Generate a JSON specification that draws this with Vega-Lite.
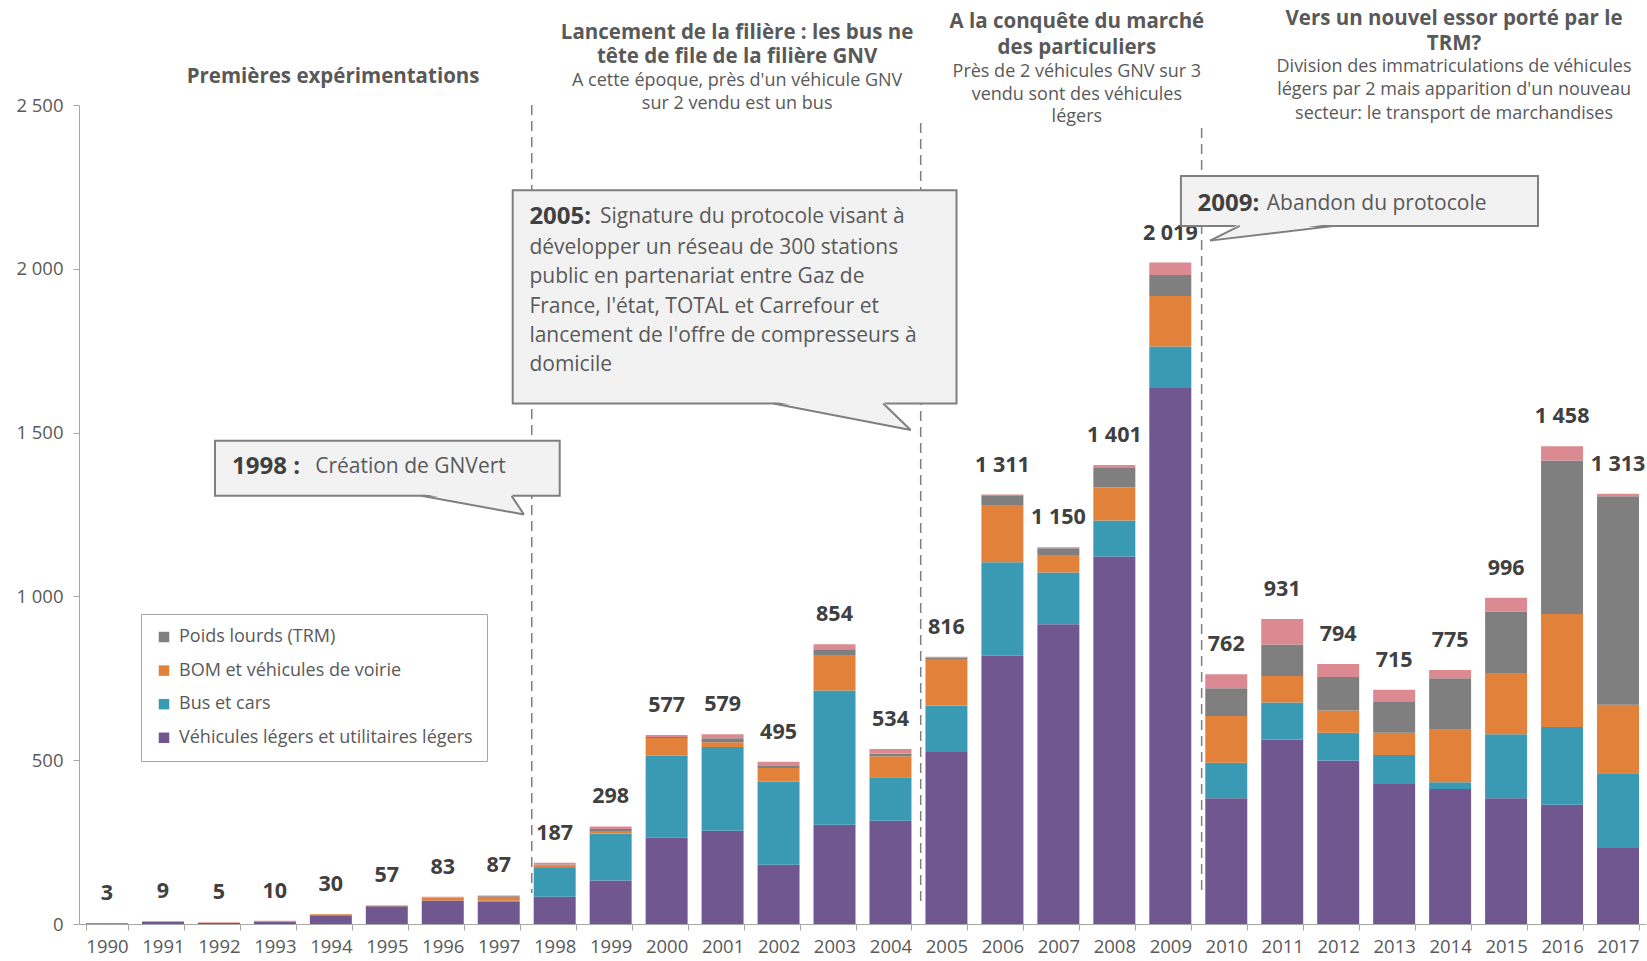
{
  "$schema": "https://vega.github.io/schema/vega-lite/v6.json",
  "width": 1567,
  "height": 819,
  "autosize": {"type": "none"},
  "padding": {"left": 79, "top": 105, "right": 1, "bottom": 37},
  "background": "white",
  "config": {
    "font": "Open Sans",
    "view": {"stroke": null},
    "locale": {"number": {"decimal": ",", "thousands": "\u00a0", "grouping": [3], "currency": ["", " €"]}}
  },
  "datasets": {
    "categories": [
      {"categorie": "Véhicules légers et utilitaires légers", "rang": 1},
      {"categorie": "Bus et cars", "rang": 2},
      {"categorie": "BOM et véhicules de voirie", "rang": 3},
      {"categorie": "Poids lourds (TRM)", "rang": 4},
      {"categorie": "Autres", "rang": 5}
    ],
    "immat": [
      {"annee": "1990", "categorie": "Véhicules légers et utilitaires légers", "n": 2},
      {"annee": "1990", "categorie": "BOM et véhicules de voirie", "n": 1},
      {"annee": "1991", "categorie": "Véhicules légers et utilitaires légers", "n": 6},
      {"annee": "1991", "categorie": "BOM et véhicules de voirie", "n": 2},
      {"annee": "1991", "categorie": "Autres", "n": 1},
      {"annee": "1992", "categorie": "Véhicules légers et utilitaires légers", "n": 3},
      {"annee": "1992", "categorie": "BOM et véhicules de voirie", "n": 1},
      {"annee": "1992", "categorie": "Autres", "n": 1},
      {"annee": "1993", "categorie": "Véhicules légers et utilitaires légers", "n": 7},
      {"annee": "1993", "categorie": "BOM et véhicules de voirie", "n": 2},
      {"annee": "1993", "categorie": "Autres", "n": 1},
      {"annee": "1994", "categorie": "Véhicules légers et utilitaires légers", "n": 27},
      {"annee": "1994", "categorie": "BOM et véhicules de voirie", "n": 3},
      {"annee": "1995", "categorie": "Véhicules légers et utilitaires légers", "n": 54},
      {"annee": "1995", "categorie": "BOM et véhicules de voirie", "n": 2},
      {"annee": "1995", "categorie": "Autres", "n": 1},
      {"annee": "1996", "categorie": "Véhicules légers et utilitaires légers", "n": 72},
      {"annee": "1996", "categorie": "BOM et véhicules de voirie", "n": 9},
      {"annee": "1996", "categorie": "Autres", "n": 2},
      {"annee": "1997", "categorie": "Véhicules légers et utilitaires légers", "n": 68},
      {"annee": "1997", "categorie": "Bus et cars", "n": 3},
      {"annee": "1997", "categorie": "BOM et véhicules de voirie", "n": 9},
      {"annee": "1997", "categorie": "Poids lourds (TRM)", "n": 5},
      {"annee": "1997", "categorie": "Autres", "n": 2},
      {"annee": "1998", "categorie": "Véhicules légers et utilitaires légers", "n": 83},
      {"annee": "1998", "categorie": "Bus et cars", "n": 88},
      {"annee": "1998", "categorie": "BOM et véhicules de voirie", "n": 8},
      {"annee": "1998", "categorie": "Poids lourds (TRM)", "n": 3},
      {"annee": "1998", "categorie": "Autres", "n": 5},
      {"annee": "1999", "categorie": "Véhicules légers et utilitaires légers", "n": 133},
      {"annee": "1999", "categorie": "Bus et cars", "n": 143},
      {"annee": "1999", "categorie": "BOM et véhicules de voirie", "n": 8},
      {"annee": "1999", "categorie": "Poids lourds (TRM)", "n": 6},
      {"annee": "1999", "categorie": "Autres", "n": 8},
      {"annee": "2000", "categorie": "Véhicules légers et utilitaires légers", "n": 263},
      {"annee": "2000", "categorie": "Bus et cars", "n": 251},
      {"annee": "2000", "categorie": "BOM et véhicules de voirie", "n": 54},
      {"annee": "2000", "categorie": "Poids lourds (TRM)", "n": 3},
      {"annee": "2000", "categorie": "Autres", "n": 6},
      {"annee": "2001", "categorie": "Véhicules légers et utilitaires légers", "n": 285},
      {"annee": "2001", "categorie": "Bus et cars", "n": 255},
      {"annee": "2001", "categorie": "BOM et véhicules de voirie", "n": 15},
      {"annee": "2001", "categorie": "Poids lourds (TRM)", "n": 12},
      {"annee": "2001", "categorie": "Autres", "n": 12},
      {"annee": "2002", "categorie": "Véhicules légers et utilitaires légers", "n": 181},
      {"annee": "2002", "categorie": "Bus et cars", "n": 254},
      {"annee": "2002", "categorie": "BOM et véhicules de voirie", "n": 41},
      {"annee": "2002", "categorie": "Poids lourds (TRM)", "n": 6},
      {"annee": "2002", "categorie": "Autres", "n": 13},
      {"annee": "2003", "categorie": "Véhicules légers et utilitaires légers", "n": 303},
      {"annee": "2003", "categorie": "Bus et cars", "n": 410},
      {"annee": "2003", "categorie": "BOM et véhicules de voirie", "n": 106},
      {"annee": "2003", "categorie": "Poids lourds (TRM)", "n": 20},
      {"annee": "2003", "categorie": "Autres", "n": 15},
      {"annee": "2004", "categorie": "Véhicules légers et utilitaires légers", "n": 315},
      {"annee": "2004", "categorie": "Bus et cars", "n": 133},
      {"annee": "2004", "categorie": "BOM et véhicules de voirie", "n": 64},
      {"annee": "2004", "categorie": "Poids lourds (TRM)", "n": 8},
      {"annee": "2004", "categorie": "Autres", "n": 14},
      {"annee": "2005", "categorie": "Véhicules légers et utilitaires légers", "n": 525},
      {"annee": "2005", "categorie": "Bus et cars", "n": 142},
      {"annee": "2005", "categorie": "BOM et véhicules de voirie", "n": 142},
      {"annee": "2005", "categorie": "Poids lourds (TRM)", "n": 4},
      {"annee": "2005", "categorie": "Autres", "n": 3},
      {"annee": "2006", "categorie": "Véhicules légers et utilitaires légers", "n": 819},
      {"annee": "2006", "categorie": "Bus et cars", "n": 285},
      {"annee": "2006", "categorie": "BOM et véhicules de voirie", "n": 175},
      {"annee": "2006", "categorie": "Poids lourds (TRM)", "n": 30},
      {"annee": "2006", "categorie": "Autres", "n": 2},
      {"annee": "2007", "categorie": "Véhicules légers et utilitaires légers", "n": 915},
      {"annee": "2007", "categorie": "Bus et cars", "n": 158},
      {"annee": "2007", "categorie": "BOM et véhicules de voirie", "n": 51},
      {"annee": "2007", "categorie": "Poids lourds (TRM)", "n": 23},
      {"annee": "2007", "categorie": "Autres", "n": 3},
      {"annee": "2008", "categorie": "Véhicules légers et utilitaires légers", "n": 1122},
      {"annee": "2008", "categorie": "Bus et cars", "n": 110},
      {"annee": "2008", "categorie": "BOM et véhicules de voirie", "n": 101},
      {"annee": "2008", "categorie": "Poids lourds (TRM)", "n": 59},
      {"annee": "2008", "categorie": "Autres", "n": 9},
      {"annee": "2009", "categorie": "Véhicules légers et utilitaires légers", "n": 1636},
      {"annee": "2009", "categorie": "Bus et cars", "n": 127},
      {"annee": "2009", "categorie": "BOM et véhicules de voirie", "n": 154},
      {"annee": "2009", "categorie": "Poids lourds (TRM)", "n": 64},
      {"annee": "2009", "categorie": "Autres", "n": 38},
      {"annee": "2010", "categorie": "Véhicules légers et utilitaires légers", "n": 384},
      {"annee": "2010", "categorie": "Bus et cars", "n": 108},
      {"annee": "2010", "categorie": "BOM et véhicules de voirie", "n": 143},
      {"annee": "2010", "categorie": "Poids lourds (TRM)", "n": 85},
      {"annee": "2010", "categorie": "Autres", "n": 42},
      {"annee": "2011", "categorie": "Véhicules légers et utilitaires légers", "n": 563},
      {"annee": "2011", "categorie": "Bus et cars", "n": 113},
      {"annee": "2011", "categorie": "BOM et véhicules de voirie", "n": 81},
      {"annee": "2011", "categorie": "Poids lourds (TRM)", "n": 96},
      {"annee": "2011", "categorie": "Autres", "n": 78},
      {"annee": "2012", "categorie": "Véhicules légers et utilitaires légers", "n": 499},
      {"annee": "2012", "categorie": "Bus et cars", "n": 85},
      {"annee": "2012", "categorie": "BOM et véhicules de voirie", "n": 68},
      {"annee": "2012", "categorie": "Poids lourds (TRM)", "n": 102},
      {"annee": "2012", "categorie": "Autres", "n": 40},
      {"annee": "2013", "categorie": "Véhicules légers et utilitaires légers", "n": 427},
      {"annee": "2013", "categorie": "Bus et cars", "n": 89},
      {"annee": "2013", "categorie": "BOM et véhicules de voirie", "n": 68},
      {"annee": "2013", "categorie": "Poids lourds (TRM)", "n": 96},
      {"annee": "2013", "categorie": "Autres", "n": 35},
      {"annee": "2014", "categorie": "Véhicules légers et utilitaires légers", "n": 412},
      {"annee": "2014", "categorie": "Bus et cars", "n": 21},
      {"annee": "2014", "categorie": "BOM et véhicules de voirie", "n": 160},
      {"annee": "2014", "categorie": "Poids lourds (TRM)", "n": 157},
      {"annee": "2014", "categorie": "Autres", "n": 25},
      {"annee": "2015", "categorie": "Véhicules légers et utilitaires légers", "n": 384},
      {"annee": "2015", "categorie": "Bus et cars", "n": 195},
      {"annee": "2015", "categorie": "BOM et véhicules de voirie", "n": 187},
      {"annee": "2015", "categorie": "Poids lourds (TRM)", "n": 188},
      {"annee": "2015", "categorie": "Autres", "n": 42},
      {"annee": "2016", "categorie": "Véhicules légers et utilitaires légers", "n": 364},
      {"annee": "2016", "categorie": "Bus et cars", "n": 237},
      {"annee": "2016", "categorie": "BOM et véhicules de voirie", "n": 345},
      {"annee": "2016", "categorie": "Poids lourds (TRM)", "n": 469},
      {"annee": "2016", "categorie": "Autres", "n": 43},
      {"annee": "2017", "categorie": "Véhicules légers et utilitaires légers", "n": 232},
      {"annee": "2017", "categorie": "Bus et cars", "n": 228},
      {"annee": "2017", "categorie": "BOM et véhicules de voirie", "n": 209},
      {"annee": "2017", "categorie": "Poids lourds (TRM)", "n": 637},
      {"annee": "2017", "categorie": "Autres", "n": 7}
    ],
    "separations": [
      {"ax": 1997.59, "haut": 2500, "bas": 95},
      {"ax": 2004.54, "haut": 2445, "bas": 70},
      {"ax": 2009.56, "haut": 2430, "bas": 90}
    ],
    "bulles": [
      {"x1": 1991.93, "x2": 1998.09, "y1": 1475, "y2": 1307},
      {"x1": 1997.25, "x2": 2005.18, "y1": 2240, "y2": 1589},
      {"x1": 2009.19, "x2": 2015.57, "y1": 2283, "y2": 2131}
    ],
    "pointes": [
      {"id": "a", "ax": 1995.62, "ay": 1314},
      {"id": "a", "ax": 1997.23, "ay": 1314},
      {"id": "a", "ax": 1997.45, "ay": 1250},
      {"id": "b", "ax": 2001.91, "ay": 1596},
      {"id": "b", "ax": 2003.87, "ay": 1596},
      {"id": "b", "ax": 2004.36, "ay": 1508},
      {"id": "c", "ax": 2010.24, "ay": 2138},
      {"id": "c", "ax": 2011.91, "ay": 2138},
      {"id": "c", "ax": 2009.71, "ay": 2086}
    ],
    "contours": [
      {"xa": 1995.62, "ya": 1307, "xb": 1997.45, "yb": 1250},
      {"xa": 1997.23, "ya": 1307, "xb": 1997.45, "yb": 1250},
      {"xa": 2001.91, "ya": 1589, "xb": 2004.36, "yb": 1508},
      {"xa": 2003.87, "ya": 1589, "xb": 2004.36, "yb": 1508},
      {"xa": 2010.24, "ya": 2131, "xb": 2009.71, "yb": 2086},
      {"xa": 2011.91, "ya": 2131, "xb": 2009.71, "yb": 2086}
    ],
    "titres_gras": [
      {"ax": 1994.04, "ay": 2586, "texte": "Premières expérimentations"},
      {"ax": 2001.26, "ay": 2721, "texte": "Lancement de la filière : les bus ne"},
      {"ax": 2001.26, "ay": 2645, "texte": "tête de file de la filière GNV"},
      {"ax": 2007.33, "ay": 2753, "texte": "A la conquête du marché"},
      {"ax": 2007.33, "ay": 2675, "texte": "des particuliers"},
      {"ax": 2014.07, "ay": 2762, "texte": "Vers un nouvel essor porté par le"},
      {"ax": 2014.07, "ay": 2685, "texte": "TRM?"}
    ],
    "titres_normaux": [
      {"ax": 2001.26, "ay": 2574, "texte": "A cette époque, près d'un véhicule GNV"},
      {"ax": 2001.26, "ay": 2503, "texte": "sur 2 vendu est un bus"},
      {"ax": 2007.33, "ay": 2602, "texte": "Près de 2 véhicules GNV sur 3"},
      {"ax": 2007.33, "ay": 2532, "texte": "vendu  sont des véhicules"},
      {"ax": 2007.33, "ay": 2462, "texte": "légers"},
      {"ax": 2014.07, "ay": 2615, "texte": "Division des immatriculations de véhicules"},
      {"ax": 2014.07, "ay": 2545, "texte": "légers par 2 mais apparition d'un nouveau"},
      {"ax": 2014.07, "ay": 2474, "texte": "secteur: le transport de marchandises"}
    ],
    "bulles_gras": [
      {"ax": 1992.235, "ay": 1394, "texte": "1998 :"},
      {"ax": 1997.548, "ay": 2157, "texte": "2005:"},
      {"ax": 2009.486, "ay": 2198, "texte": "2009:"}
    ],
    "bulles_texte": [
      {"ax": 1993.72, "ay": 1394, "texte": "Création de GNVert"},
      {"ax": 1998.81, "ay": 2157, "texte": "Signature du protocole visant à"},
      {"ax": 1997.548, "ay": 2064, "texte": "développer un réseau de 300 stations"},
      {"ax": 1997.548, "ay": 1974, "texte": "public en partenariat entre Gaz de"},
      {"ax": 1997.548, "ay": 1884, "texte": "France, l'état, TOTAL et Carrefour et"},
      {"ax": 1997.548, "ay": 1795, "texte": "lancement de l'offre de compresseurs à"},
      {"ax": 1997.548, "ay": 1705, "texte": "domicile"},
      {"ax": 2010.725, "ay": 2198, "texte": "Abandon du protocole"}
    ]
  },
  "layer": [
    {
      "data": {"name": "immat"},
      "transform": [
        {"lookup": "categorie", "from": {"data": {"name": "categories"}, "key": "categorie", "fields": ["rang"]}}
      ],
      "layer": [
        {
          "mark": {"type": "bar"},
          "encoding": {
            "x": {
              "field": "annee", "type": "ordinal",
              "scale": {"paddingInner": 0.25, "paddingOuter": 0.125},
              "axis": {
                "title": null, "labelAngle": 0, "tickBand": "extent",
                "labelFontSize": 18.5, "labelColor": "#595959", "labelPadding": 7,
                "domainColor": "#a6a6a6", "tickColor": "#a6a6a6", "tickSize": 6
              }
            },
            "y": {
              "aggregate": "sum", "field": "n", "type": "quantitative",
              "scale": {"domain": [0, 2500], "nice": false},
              "axis": {
                "title": null, "values": [0, 500, 1000, 1500, 2000, 2500], "format": ",d",
                "grid": false, "labelFontSize": 18.5, "labelColor": "#595959",
                "domainColor": "#a6a6a6", "tickColor": "#a6a6a6", "tickSize": 6, "labelPadding": 10
              }
            },
            "order": {"field": "rang", "type": "quantitative", "sort": "ascending"},
            "color": {
              "field": "categorie", "type": "nominal",
              "scale": {
                "domain": ["Autres", "Poids lourds (TRM)", "BOM et véhicules de voirie", "Bus et cars", "Véhicules légers et utilitaires légers"],
                "range": ["#da8a90", "#7f7f7f", "#e2823a", "#3a9ab4", "#70578f"]
              },
              "legend": {
                "values": ["Poids lourds (TRM)", "BOM et véhicules de voirie", "Bus et cars", "Véhicules légers et utilitaires légers"],
                "title": null, "orient": "none", "legendX": 62, "legendY": 509,
                "padding": 14, "strokeColor": "#a6a6a6", "fillColor": "white",
                "symbolType": "square", "symbolSize": 110, "symbolStrokeWidth": 0,
                "labelFontSize": 18, "labelColor": "#595959", "labelOffset": 6,
                "rowPadding": 15.6, "labelLimit": 400
              }
            }
          }
        },
        {
          "mark": {"type": "text", "fontWeight": "bold", "fontSize": 21.5, "color": "#404040", "baseline": "middle", "dy": -29},
          "encoding": {
            "x": {"field": "annee", "type": "ordinal"},
            "y": {"aggregate": "sum", "field": "n", "type": "quantitative", "scale": {"domain": [0, 2500], "nice": false}},
            "text": {"aggregate": "sum", "field": "n", "type": "quantitative", "format": ",d"}
          }
        }
      ]
    },
    {
      "data": {"name": "separations"},
      "mark": {"type": "rule", "color": "#7f7f7f", "strokeWidth": 1.5, "strokeDash": [10, 6]},
      "encoding": {
        "x": {"field": "ax", "type": "quantitative", "scale": {"domain": [1989.5, 2017.5], "nice": false, "zero": false}, "axis": null},
        "y": {"field": "haut", "type": "quantitative", "scale": {"domain": [0, 2500], "nice": false}, "axis": null},
        "y2": {"field": "bas"}
      }
    },
    {
      "data": {"name": "bulles"},
      "mark": {"type": "rect", "fill": "#f2f2f2", "stroke": "#7f7f7f", "strokeWidth": 2},
      "encoding": {
        "x": {"field": "x1", "type": "quantitative", "scale": {"domain": [1989.5, 2017.5], "nice": false, "zero": false}, "axis": null},
        "x2": {"field": "x2"},
        "y": {"field": "y1", "type": "quantitative", "scale": {"domain": [0, 2500], "nice": false}, "axis": null},
        "y2": {"field": "y2"}
      }
    },
    {
      "data": {"name": "pointes"},
      "mark": {"type": "line", "fill": "#f2f2f2", "strokeOpacity": 0, "interpolate": "linear-closed"},
      "encoding": {
        "x": {"field": "ax", "type": "quantitative", "scale": {"domain": [1989.5, 2017.5], "nice": false, "zero": false}, "axis": null},
        "y": {"field": "ay", "type": "quantitative", "scale": {"domain": [0, 2500], "nice": false}, "axis": null},
        "detail": {"field": "id", "type": "nominal"}
      }
    },
    {
      "data": {"name": "contours"},
      "mark": {"type": "rule", "color": "#7f7f7f", "strokeWidth": 2},
      "encoding": {
        "x": {"field": "xa", "type": "quantitative", "scale": {"domain": [1989.5, 2017.5], "nice": false, "zero": false}, "axis": null},
        "x2": {"field": "xb"},
        "y": {"field": "ya", "type": "quantitative", "scale": {"domain": [0, 2500], "nice": false}, "axis": null},
        "y2": {"field": "yb"}
      }
    },
    {
      "data": {"name": "titres_gras"},
      "mark": {"type": "text", "fontWeight": "bold", "fontSize": 20.5, "color": "#595959", "align": "center", "baseline": "middle"},
      "encoding": {
        "x": {"field": "ax", "type": "quantitative", "scale": {"domain": [1989.5, 2017.5], "nice": false, "zero": false}, "axis": null},
        "y": {"field": "ay", "type": "quantitative", "scale": {"domain": [0, 2500], "nice": false}, "axis": null},
        "text": {"field": "texte"}
      }
    },
    {
      "data": {"name": "titres_normaux"},
      "mark": {"type": "text", "fontSize": 18, "color": "#595959", "align": "center", "baseline": "middle"},
      "encoding": {
        "x": {"field": "ax", "type": "quantitative", "scale": {"domain": [1989.5, 2017.5], "nice": false, "zero": false}, "axis": null},
        "y": {"field": "ay", "type": "quantitative", "scale": {"domain": [0, 2500], "nice": false}, "axis": null},
        "text": {"field": "texte"}
      }
    },
    {
      "data": {"name": "bulles_gras"},
      "mark": {"type": "text", "fontWeight": "bold", "fontSize": 24, "color": "#404040", "align": "left", "baseline": "middle"},
      "encoding": {
        "x": {"field": "ax", "type": "quantitative", "scale": {"domain": [1989.5, 2017.5], "nice": false, "zero": false}, "axis": null},
        "y": {"field": "ay", "type": "quantitative", "scale": {"domain": [0, 2500], "nice": false}, "axis": null},
        "text": {"field": "texte"}
      }
    },
    {
      "data": {"name": "bulles_texte"},
      "mark": {"type": "text", "fontSize": 21, "color": "#595959", "align": "left", "baseline": "middle"},
      "encoding": {
        "x": {"field": "ax", "type": "quantitative", "scale": {"domain": [1989.5, 2017.5], "nice": false, "zero": false}, "axis": null},
        "y": {"field": "ay", "type": "quantitative", "scale": {"domain": [0, 2500], "nice": false}, "axis": null},
        "text": {"field": "texte"}
      }
    }
  ],
  "resolve": {"scale": {"x": "independent", "y": "independent"}}
}
